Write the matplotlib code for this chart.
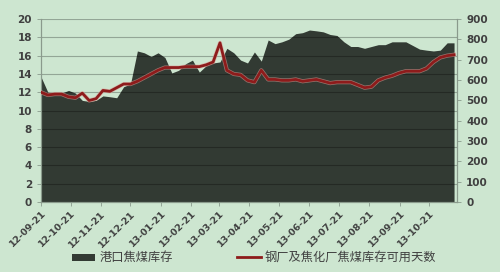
import matplotlib
matplotlib.use("Agg")
import matplotlib.pyplot as plt
import matplotlib.patheffects as pe
from matplotlib.lines import Line2D
import pandas as pd

plt.rcParams['font.family'] = ['Noto Sans CJK SC', 'DejaVu Sans']

# Weekly dates (Fridays)
dates = pd.date_range("2012-09-21", "2013-11-15", freq="7D")

# Port coking coal inventory (right axis, 10k tonnes)
port_stock = [616, 540, 536, 536, 549, 536, 500, 495, 500, 522,
              518, 513, 567, 581, 743, 734, 716, 734, 711, 635,
              648, 680, 698, 639, 671, 684, 689, 756, 734, 698,
              684, 738, 693, 797, 779, 788, 801, 828, 833, 846,
              842, 837, 824, 819, 788, 765, 765, 756, 765, 774,
              774, 788, 788, 788, 770, 752, 747, 743, 747, 783,
              783]

# Days of coking coal inventory at steel mills and coking plants (left axis)
usable_days = [12.0, 11.7, 11.8, 11.8, 11.5, 11.4, 11.9, 11.1, 11.3, 12.2,
               12.1, 12.5, 12.9, 12.9, 13.2, 13.6, 14.0, 14.4, 14.7, 14.7,
               14.7, 14.8, 14.8, 14.8, 15.0, 15.3, 17.4, 14.4, 14.0, 13.9,
               13.3, 13.1, 14.4, 13.4, 13.4, 13.3, 13.3, 13.4, 13.2, 13.3,
               13.4, 13.2, 13.0, 13.1, 13.1, 13.1, 12.8, 12.5, 12.6, 13.3,
               13.6, 13.8, 14.1, 14.3, 14.3, 14.3, 14.6, 15.3, 15.8, 16.0,
               16.1]

tick_labels = ["12-09-21", "12-10-21", "12-11-21", "12-12-21", "13-01-21",
               "13-02-21", "13-03-21", "13-04-21", "13-05-21", "13-06-21",
               "13-07-21", "13-08-21", "13-09-21", "13-10-21"]
tick_dates = pd.to_datetime(tick_labels, format="%y-%m-%d")

bg = "#cde6d0"
area_color = "#323a33"
line_color = "#8e1b1b"
txt_color = "#404040"

fig = plt.figure(figsize=(5.0, 2.72), dpi=100)
fig.patch.set_facecolor(bg)
ax = fig.add_axes([0.082, 0.257, 0.832, 0.673])
ax.set_facecolor(bg)
ax2 = ax.twinx()

# area on right axis
ax2.fill_between(dates, port_stock, 0, color=area_color, lw=0, zorder=1, label="港口焦煤库存")
ax2.set_ylim(0, 900)
ax2.set_yticks(range(0, 901, 100))

ax.set_zorder(ax2.get_zorder() + 1)
ax.patch.set_visible(False)
ax2.patch.set_visible(True)
ax2.patch.set_facecolor(bg)

ax.plot(dates, usable_days, color=line_color, lw=2.0, zorder=5,
        path_effects=[pe.Stroke(linewidth=3.0, foreground="#d9a098", alpha=0.6), pe.Normal()],
        label="钢厂及焦化厂焦煤库存可用天数")
ax.set_ylim(0, 20)
ax.set_yticks(range(0, 21, 2))
ax.set_xlim(dates[0], pd.Timestamp("2013-11-18"))
ax.set_xticks(tick_dates)
ax.set_xticklabels(tick_labels, rotation=45, ha="right", rotation_mode="anchor")

for y in range(2, 21, 2):
    ax.axhline(y, color="black", alpha=0.28, lw=0.8, zorder=2)

for a in (ax, ax2):
    a.spines["top"].set_visible(False)
    a.spines["left"].set_color("#8a9a8c")
    a.spines["right"].set_color("#8a9a8c")
    a.spines["bottom"].set_color("#8a9a8c")
    a.tick_params(colors="#8a9a8c", labelcolor=txt_color, labelsize=7.5, length=3, width=0.6)
ax.tick_params(axis="x", labelsize=6.8, pad=2)
for lab in ax.get_yticklabels() + ax2.get_yticklabels() + ax.get_xticklabels():
    lab.set_fontweight("bold")
    lab.set_family(["DejaVu Sans"])

h1, l1 = ax2.get_legend_handles_labels()
h2 = [Line2D([0], [0], color=line_color, lw=2)]
l2 = ["钢厂及焦化厂焦煤库存可用天数"]
leg = fig.legend(h1 + h2, l1 + l2, loc="center", bbox_to_anchor=(0.508, 0.052), ncol=2,
                 frameon=False, fontsize=8.8, handlelength=1.9, handleheight=0.5,
                 columnspacing=5.3, handletextpad=0.3)
for t in leg.get_texts():
    t.set_color(txt_color)

fig.savefig("out.png", dpi=100, facecolor=bg)
